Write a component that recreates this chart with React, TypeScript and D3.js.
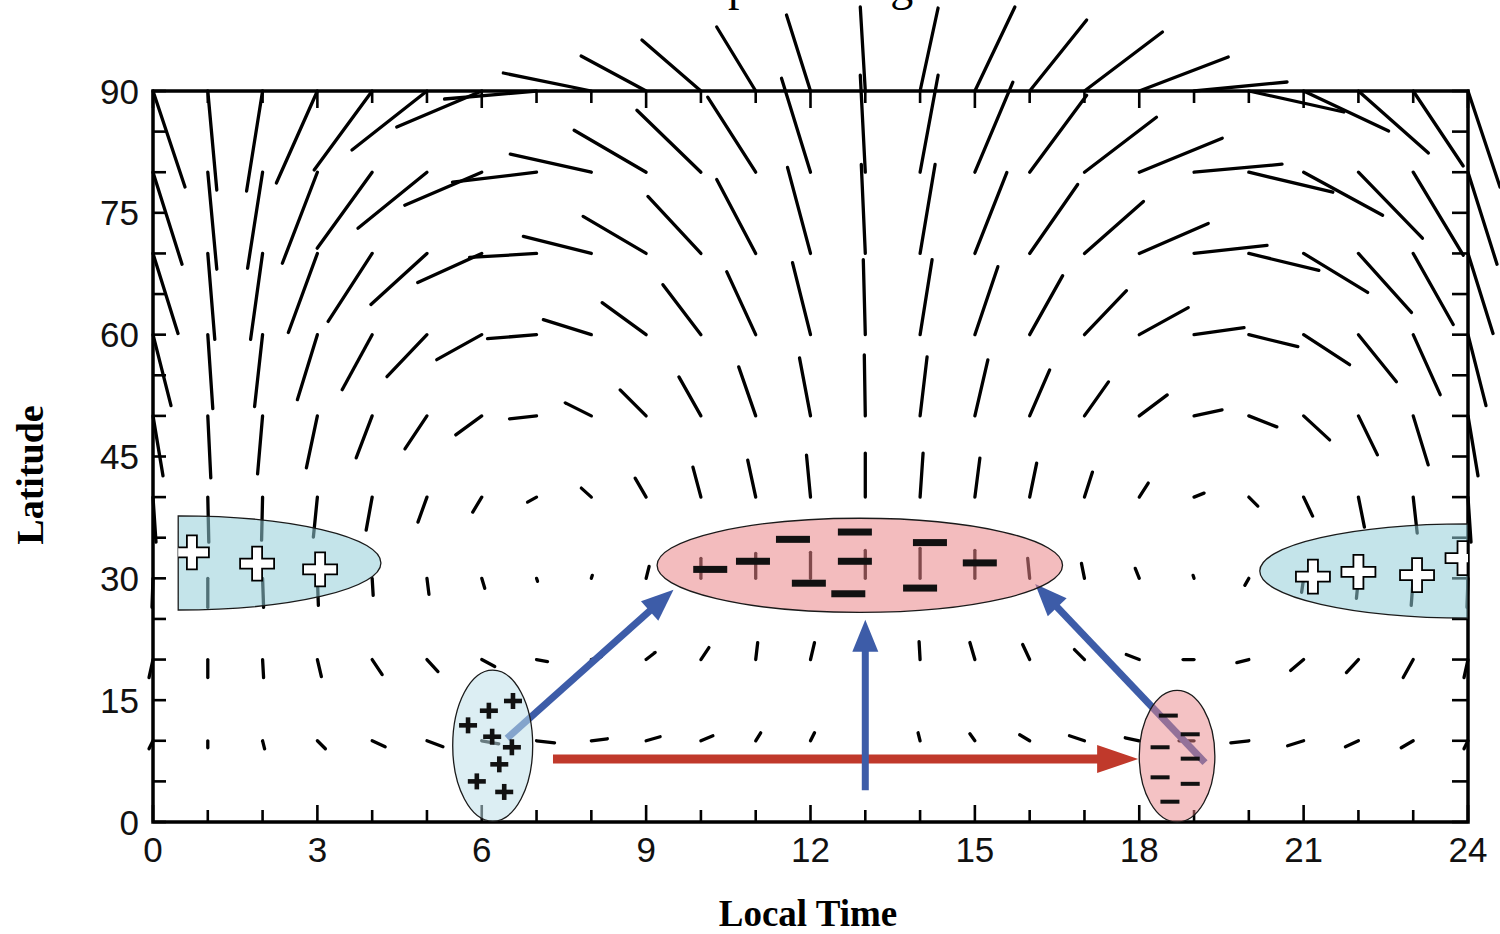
import React from 'react';
import * as d3 from 'd3';

// ---------- data ----------
const HOURS = d3.range(0, 25); // local time 0..24 (24 repeats 0)
const LATS = [90, 80, 70, 60, 50, 40, 30, 20, 10];
const Y_TICKS = [0, 15, 30, 45, 60, 75, 90];
const X_TICKS = [0, 3, 6, 9, 12, 15, 18, 21, 24];

// wind vectors [eastward, northward] for local hours 0..23
const wind90 = [[32,-96],[9,-99],[-16,-100],[-41,-92],[-58,-79],[-75,-59],[-85,-36],[-92,-8],[-88,18],[-65,35],[-59,51],[-39,64],[-24,76],[-5,84],[18,83],[40,84],[57,71],[78,59],[89,34],[93,9],[95,-21],[85,-40],[70,-62],[50,-75]];
const wind80 = [[29,-92],[9,-97],[-15,-96],[-35,-91],[-55,-76],[-69,-56],[-77,-33],[-84,-10],[-81,18],[-72,42],[-64,62],[-48,75],[-29,94],[-5,97],[18,97],[38,90],[57,77],[72,55],[83,34],[88,8],[84,-20],[79,-43],[64,-66],[50,-83]];
const wind70 = [[25,-80],[7,-86],[-12,-86],[-29,-79],[-44,-68],[-56,-51],[-64,-29],[-67,-4],[-68,17],[-63,37],[-53,57],[-39,74],[-23,86],[-4,89],[15,89],[32,81],[48,69],[59,52],[69,30],[73,8],[70,-17],[64,-39],[53,-59],[40,-71]];
const wind60 = [[18,-71],[5,-74],[-8,-72],[-20,-65],[-30,-55],[-40,-42],[-45,-25],[-49,-4],[-48,15],[-44,32],[-38,50],[-29,63],[-18,72],[-2,75],[12,75],[23,68],[33,59],[42,44],[49,27],[50,7],[49,-12],[46,-30],[38,-47],[27,-60]];
const wind50 = [[10,-60],[3,-62],[-5,-58],[-11,-52],[-16,-42],[-22,-33],[-26,-19],[-27,-3],[-26,13],[-26,26],[-22,39],[-17,49],[-11,58],[-1,61],[7,59],[13,56],[20,46],[24,34],[28,21],[28,6],[28,-11],[26,-24],[19,-39],[15,-49]];
const wind40 = [[3,-45],[1,-45],[-1,-43],[-4,-40],[-6,-33],[-9,-25],[-9,-15],[-9,-5],[-10,9],[-11,19],[-8,30],[-8,37],[-4,42],[0,44],[3,44],[5,39],[7,34],[8,25],[9,14],[10,4],[9,-9],[9,-19],[6,-30],[4,-36]];
const wind30 = [[-1,-29],[0,-29],[1,-29],[1,-27],[1,-17],[2,-16],[3,-10],[1,-3],[1,3],[3,12],[0,20],[0,25],[0,26],[0,28],[0,30],[0,28],[-2,20],[-3,15],[-4,10],[-1,3],[-4,-7],[-2,-14],[-2,-20],[-2,-27]];
const wind20 = [[-4,-18],[0,-18],[1,-18],[4,-17],[10,-15],[11,-12],[13,-7],[11,-2],[10,3],[9,7],[8,12],[2,17],[4,17],[0,18],[-1,18],[-5,17],[-7,15],[-10,10],[-13,5],[-11,0],[-12,-3],[-13,-11],[-12,-13],[-10,-18]];
const wind10 = [[-4,-8],[0,-7],[2,-8],[8,-8],[13,-6],[16,-6],[17,-3],[18,-2],[16,2],[14,4],[12,5],[5,8],[4,8],[0,8],[-2,8],[-5,7],[-10,6],[-15,5],[-14,3],[-15,0],[-18,-2],[-16,-5],[-13,-6],[-12,-7]];
const WIND_ROWS = [wind90, wind80, wind70, wind60, wind50, wind40, wind30, wind20, wind10];

// charge regions: [hour, lat, rxHours, ryDeg]
const posLeft = [0.46, 31.9, 3.7, 5.8];
const posRight = [24, 30.9, 3.8, 5.8];
const negCenter = [12.9, 31.6, 3.7, 5.8];
const posDawn = [6.2, 9.4, 0.73, 9.3];
const negDusk = [18.69, 8.1, 0.69, 8.1];

// symbols [hour, lat]
const bigPlusLeft = [[0.71, 33.2], [1.9, 31.8], [3.05, 31.1]];
const bigPlusRight = [[21.17, 30.2], [22.0, 30.8], [23.07, 30.4], [23.9, 32.5]];
const bigMinus = [[10.17, 31.1], [10.95, 32.1], [11.68, 34.8], [11.97, 29.4], [12.81, 35.7], [12.81, 32.1], [12.69, 28.1], [14.18, 34.4], [14.0, 28.8], [15.09, 31.9]];
const smallPlus = [[6.57, 14.9], [6.13, 13.7], [5.75, 11.9], [6.19, 10.5], [6.55, 9.2], [6.32, 7.1], [5.91, 5.0], [6.41, 3.7]];
const smallMinus = [[18.53, 13.1], [18.93, 10.8], [18.38, 9.2], [18.93, 7.8], [18.38, 5.5], [18.93, 4.7], [18.56, 2.5]];

// arrows: [fromHour, fromLat, toHour, toLat]
const blueArrows = [[6.46, 10.3, 9.5, 28.6], [13.0, 3.9, 13.0, 24.9], [19.2, 7.3, 16.1, 29.3]];
const redArrow = [7.3, 7.75, 17.98, 7.75];

// ---------- scales ----------
const x = d3.scaleLinear().domain([0, 24]).range([153, 1468]);
const y = d3.scaleLinear().domain([0, 90]).range([822, 91]);
const vecLen = d3.scaleLinear().domain([0, 100]).range([0, 100]);

const BLUE = '#3d5ca8';
const RED = '#c0392b';

function Arrow({ d, color, w, hl, hw }: any) {
  const x1 = x(d[0]), y1 = y(d[1]), x2 = x(d[2]), y2 = y(d[3]);
  const L = Math.hypot(x2 - x1, y2 - y1);
  const ux = (x2 - x1) / L, uy = (y2 - y1) / L;
  const bx = x2 - ux * hl, by = y2 - uy * hl;
  const px = -uy, py = ux;
  const pts = [[x2, y2], [bx + px * hw / 2, by + py * hw / 2], [bx - px * hw / 2, by - py * hw / 2]];
  return (
    <g>
      <line x1={x1} y1={y1} x2={bx + ux * 2} y2={by + uy * 2} stroke={color} strokeWidth={w} />
      <polygon points={pts.map(p => p.join(',')).join(' ')} fill={color} />
    </g>
  );
}

function ell(e: number[]) {
  return { cx: x(e[0]), cy: y(e[1]), rx: x(e[0] + e[2]) - x(e[0]), ry: y(e[1]) - y(e[1] + e[3]) };
}

function plusPath(cx: number, cy: number, L: number, a: number) {
  return `M${cx - a},${cy - L}H${cx + a}V${cy - a}H${cx + L}V${cy + a}H${cx + a}V${cy + L}H${cx - a}V${cy + a}H${cx - L}V${cy - a}H${cx - a}Z`;
}

export default function App() {
  const pl = ell(posLeft), pr = ell(posRight), nc = ell(negCenter), pd = ell(posDawn), nd = ell(negDusk);
  const leftShape = `M${pl.cx},${pl.cy - pl.ry}A${pl.rx},${pl.ry} 0 0 1 ${pl.cx},${pl.cy + pl.ry}Z`;
  const rightShape = `M${pr.cx},${pr.cy - pr.ry}A${pr.rx},${pr.ry} 0 0 0 ${pr.cx},${pr.cy + pr.ry}Z`;
  const serif = '"Liberation Serif", "Times New Roman", serif';
  const sans = '"Liberation Sans", Arial, sans-serif';
  return (
    <div style={{ position: 'absolute', left: 0, top: 0 }}>
      <svg width={1500} height={934} style={{ display: 'block', overflow: 'visible', background: '#fff' }}>
        <defs>
          <clipPath id="clipLeft"><path d={leftShape} /></clipPath>
          <clipPath id="clipRight"><rect x={0} y={0} width={x(24)} height={934} /></clipPath>
        </defs>
        <text x={647} y={0} fontFamily={serif} fontSize={46}>Temperature gradient</text>

        {/* wind vectors */}
        <g stroke="#000" strokeWidth={3.3} strokeLinecap="round">
          {WIND_ROWS.map((row, i) =>
            HOURS.map(h => {
              const c = row[h % 24];
              const x1 = x(h), y1 = y(LATS[i]);
              return <line key={`${i}-${h}`} x1={x1} y1={y1} x2={x1 + vecLen(c[0])} y2={y1 - vecLen(c[1])} />;
            })
          )}
        </g>

        {/* frame and ticks */}
        <g stroke="#000" fill="none">
          <rect x={x(0)} y={y(90)} width={x(24) - x(0)} height={y(0) - y(90)} strokeWidth={3.5} />
          {d3.range(0, 25).map(h => {
            const len = h % 3 === 0 ? 17 : 12;
            return (
              <g key={h} strokeWidth={2.6}>
                <line x1={x(h)} x2={x(h)} y1={y(0)} y2={y(0) - len} />
                <line x1={x(h)} x2={x(h)} y1={y(90)} y2={y(90) + len} />
              </g>
            );
          })}
          {d3.range(0, 91, 5).map(l => (
            <g key={l} strokeWidth={2.6}>
              <line x1={x(0)} x2={x(0) + 13} y1={y(l)} y2={y(l)} />
              <line x1={x(24)} x2={x(24) - 16} y1={y(l)} y2={y(l)} />
            </g>
          ))}
        </g>

        {/* arrows */}
        <Arrow d={redArrow} color={RED} w={9} hl={41} hw={28} />
        {blueArrows.map((a, i) => <Arrow key={i} d={a} color={BLUE} w={7} hl={32} hw={26} />)}

        {/* charge regions */}
        <path d={leftShape} fill="#93cdd8" fillOpacity={0.55} stroke="#1a1a1a" strokeWidth={1.3} />
        <g clipPath="url(#clipRight)">
          <path d={rightShape} fill="#93cdd8" fillOpacity={0.55} stroke="#1a1a1a" strokeWidth={1.3} />
        </g>
        <ellipse {...nc} fill="#e98589" fillOpacity={0.55} stroke="#1a1a1a" strokeWidth={1.3} />
        <ellipse {...pd} fill="#bfe0e9" fillOpacity={0.55} stroke="#1a1a1a" strokeWidth={1.3} />
        <ellipse {...nd} fill="#e98589" fillOpacity={0.5} stroke="#1a1a1a" strokeWidth={1.3} />

        {/* symbols */}
        <g clipPath="url(#clipLeft)">
          {bigPlusLeft.map((p, i) => <path key={i} d={plusPath(x(p[0]), y(p[1]), 17, 5)} fill="#fff" stroke="#000" strokeWidth={1.8} />)}
        </g>
        <g clipPath="url(#clipRight)">
          {bigPlusRight.map((p, i) => <path key={i} d={plusPath(x(p[0]), y(p[1]), 17, 5)} fill="#fff" stroke="#000" strokeWidth={1.8} />)}
        </g>
        {bigMinus.map((p, i) => <rect key={i} x={x(p[0]) - 17} y={y(p[1]) - 3.5} width={34} height={7} fill="#111" />)}
        {smallPlus.map((p, i) => (
          <g key={i} fill="#111">
            <rect x={x(p[0]) - 9} y={y(p[1]) - 2.3} width={18} height={4.6} />
            <rect x={x(p[0]) - 2.3} y={y(p[1]) - 8} width={4.6} height={16} />
          </g>
        ))}
        {smallMinus.map((p, i) => <rect key={i} x={x(p[0]) - 9.5} y={y(p[1]) - 2} width={19} height={4} fill="#111" />)}

        {/* tick labels */}
        <g fontFamily={sans} fontSize={35} fill="#111">
          {Y_TICKS.map(t => <text key={t} x={139} y={y(t)} dy="0.36em" textAnchor="end">{t}</text>)}
          {X_TICKS.map(t => <text key={t} x={x(t)} y={862} textAnchor="middle">{t}</text>)}
        </g>

        <text transform="translate(43,475) rotate(-90)" textAnchor="middle" fontFamily={serif} fontWeight="bold" fontSize={38}>Latitude</text>
        <text x={808} y={926} textAnchor="middle" fontFamily={serif} fontWeight="bold" fontSize={37}>Local Time</text>
      </svg>
    </div>
  );
}
